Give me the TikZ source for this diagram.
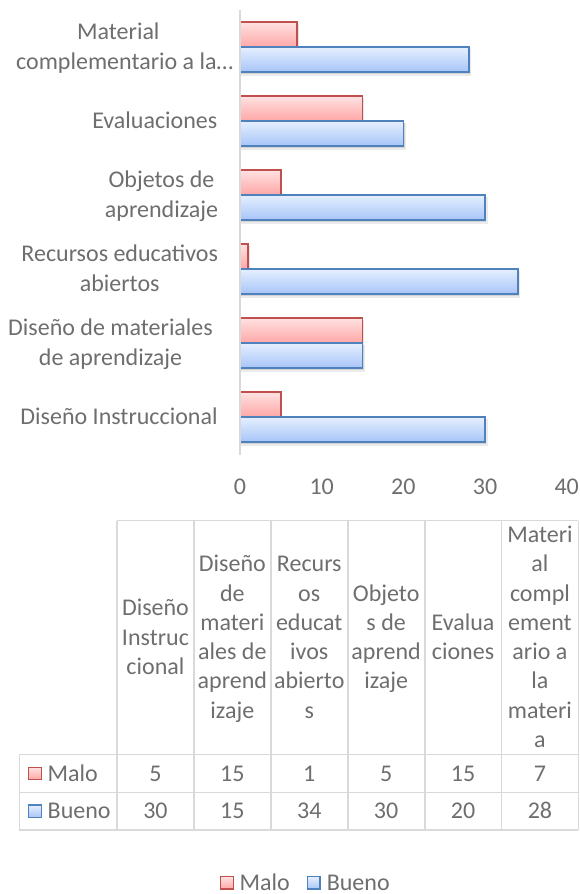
\documentclass[tikz,border=0pt]{standalone}
\usepackage{fontspec}
\setmainfont{Carlito}
\definecolor{tgray}{HTML}{6E6E6E}
\definecolor{gridc}{HTML}{D9D9D9}
\definecolor{maloedge}{HTML}{C0504D}
\definecolor{malotop}{HTML}{FFE2E2}
\definecolor{malobot}{HTML}{FFA6A6}
\definecolor{buenoedge}{HTML}{4F81BD}
\definecolor{buenotop}{HTML}{E6EFFF}
\definecolor{buenobot}{HTML}{A7C5F8}
\newcommand\hcell[3]{%
  \foreach \hl [count=\i from 0] in {#3} {
    \node[txt, anchor=base] (h#1-\i) at ({117+76.9*(#1-0.5)}, {637.5+(\i-(#2-1)/2)*29.3+7.5}) {\hl};
  }%
}
\begin{document}
\begin{tikzpicture}[x=1pt,y=-1pt,
  txt/.style={text=tgray, font=\fontsize{24}{29.3}\selectfont, inner sep=0pt},
  malofill/.style={draw=maloedge, line width=1.6pt, top color=malotop, bottom color=malobot},
  buenofill/.style={draw=buenoedge, line width=1.6pt, top color=buenotop, bottom color=buenobot},
  keyfill/.style={line width=1.3pt},
  shadowa/.style={fill=black, opacity=0.10},
  shadowb/.style={fill=black, opacity=0.08},
  gridline/.style={draw=gridc, line width=1.3pt}]
\useasboundingbox (0,0) rectangle (579,894);

% ---- bars ----
\foreach \c/\m/\b in {417/5/30, 343/15/15, 269/1/34, 195/5/30, 121/15/20, 47/7/28} {
  \fill[shadowa] (240,{\c-25+2}) rectangle ({240+8.17*\m+1.5},{\c+2});
  \fill[shadowb] (240,{\c+2}) rectangle ({240+8.17*\b+2.5},{\c+25+3.5});
  \fill[shadowa] (240,{\c+2}) rectangle ({240+8.17*\b+1.2},{\c+25+2});
}
\foreach \c/\m/\b in {417/5/30, 343/15/15, 269/1/34, 195/5/30, 121/15/20, 47/7/28} {
  \shade[malofill] (240,{\c-25}) rectangle ({240+8.17*\m},\c);
  \shade[buenofill] (240,\c) rectangle ({240+8.17*\b},{\c+25});
}

% ---- category axis ----
\draw[gridline] (240,10) -- (240,455);

% ---- category labels ----
\node[txt, anchor=base] (l6a) at (118.3,39.9) {Material};
\node[txt, anchor=base] (l6b) at (124.7,69.2) {complementario a la…};
\node[txt, anchor=base east] (l5) at (217.5,128.5) {Evaluaciones};
\node[txt, anchor=base] (l4a) at (161.5,187.9) {Objetos de};
\node[txt, anchor=base] (l4b) at (161.5,217.2) {aprendizaje};
\node[txt, anchor=base] (l3a) at (119.7,261.9) {Recursos educativos};
\node[txt, anchor=base] (l3b) at (119.7,291.2) {abiertos};
\node[txt, anchor=base] (l2a) at (110.5,335.9) {Diseño de materiales};
\node[txt, anchor=base] (l2b) at (110.5,365.2) {de aprendizaje};
\node[txt, anchor=base east] (l1) at (217.8,424.5) {Diseño Instruccional};

% ---- value axis labels ----
\foreach \k/\v in {0/0,1/10,2/20,3/30,4/40}
  \node[txt, anchor=base] (v\k) at ({240+81.67*\k},494.2) {\v};

% ---- data table grid ----
\draw[gridline] (117,520.5) -- (578.3,520.5);
\foreach \x in {117,194,271,348,425,501.7,578.3}
  \draw[gridline] (\x,520.5) -- (\x,830);
\foreach \y in {754.7,792.3,830}
  \draw[gridline] (19.3,\y) -- (578.3,\y);
\draw[gridline] (19.3,754.7) -- (19.3,830);

% ---- header cells ----
\hcell{1}{3}{Diseño,Instruc,cional}
\hcell{2}{6}{Diseño,de,materi,ales de,aprend,izaje}
\hcell{3}{6}{Recurs,os,educat,ivos,abierto,s}
\hcell{4}{4}{Objeto,s de,aprend,izaje}
\hcell{5}{2}{Evalua,ciones}
\hcell{6}{8}{Materi,al,compl,ement,ario a,la,materi,a}

% ---- row labels ----
\shade[keyfill, draw=maloedge, top color=malotop, bottom color=malobot] (28.7,767.2) rectangle (41.3,779.8);
\node[txt, anchor=base west] (rmalo) at (47.5,781) {Malo};
\shade[keyfill, draw=buenoedge, top color=buenotop, bottom color=buenobot] (28.7,804.9) rectangle (41.3,817.5);
\node[txt, anchor=base west] (rbueno) at (47.5,818.7) {Bueno};

% ---- values ----
\foreach \k/\m/\b in {1/5/30, 2/15/15, 3/1/34, 4/5/30, 5/15/20, 6/7/28} {
  \node[txt, anchor=base] (m\k) at ({117+76.9*(\k-0.5)},781) {\m};
  \node[txt, anchor=base] (b\k) at ({117+76.9*(\k-0.5)},818.7) {\b};
}

% ---- legend ----
\shade[keyfill, draw=maloedge, top color=malotop, bottom color=malobot] (220.7,876.5) rectangle (233.3,889.1);
\node[txt, anchor=base west] (kmalo) at (239.3,890.1) {Malo};
\shade[keyfill, draw=buenoedge, top color=buenotop, bottom color=buenobot] (307.5,876.5) rectangle (320.1,889.1);
\node[txt, anchor=base west] (kbueno) at (326.6,890.1) {Bueno};
\end{tikzpicture}
\end{document}
